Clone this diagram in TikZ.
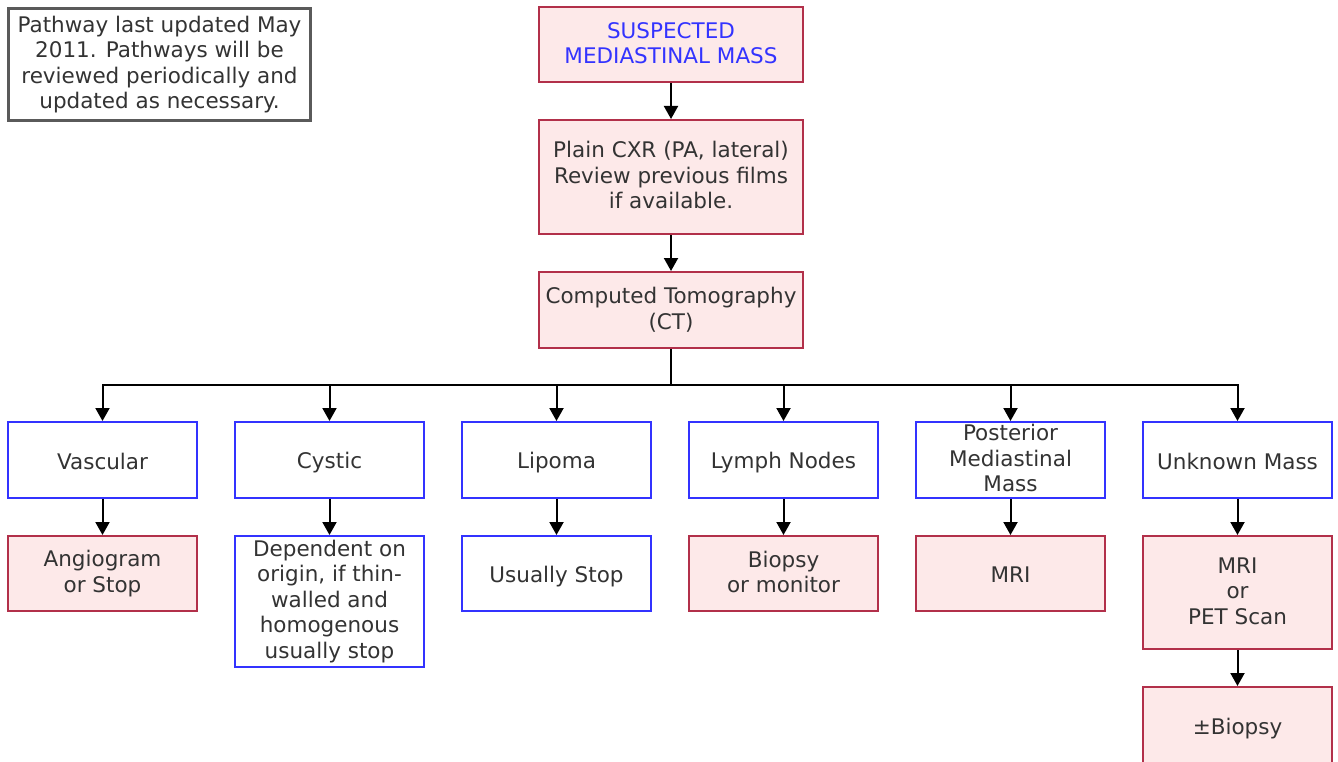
\documentclass[tikz,border=0pt]{standalone}
\usepackage{fontspec}
\setmainfont{DejaVu Sans}
\usepackage{tikz}
\usetikzlibrary{arrows.meta}
\usetikzlibrary{positioning}
\definecolor{boxpink}{RGB}{253,233,233}
\definecolor{boxred}{RGB}{178,48,74}
\definecolor{boxblue}{RGB}{51,51,255}
\definecolor{txtgray}{RGB}{51,51,51}
\definecolor{notegray}{RGB}{90,90,90}
\newcommand\boxstrut{\rule[-3.4pt]{0pt}{25.5pt}}
\begin{document}
\begin{tikzpicture}[x=1pt,y=-1pt]
\tikzstyle{pink node}=[rectangle,draw=boxred,fill=boxpink,line width=2pt,minimum width=264pt,align=center,inner sep=1pt,text=txtgray,font=\fontsize{21.5}{25.5}\selectfont,execute at begin node=\boxstrut,execute at end node=\boxstrut]
\tikzstyle{blue node}=[rectangle,draw=boxblue,fill=white,line width=2pt,minimum width=189pt,minimum height=76pt,align=center,inner sep=1pt,text=txtgray,font=\fontsize{21.5}{25.5}\selectfont,execute at begin node=\boxstrut,execute at end node=\boxstrut]
\tikzset{
  small pink/.style = {pink node,minimum width=189pt,minimum height=75pt},
  note node/.style = {rectangle,draw=notegray,line width=2.5pt,minimum width=302pt,minimum height=112pt,align=center,inner sep=1pt,text=txtgray,font=\fontsize{21.5}{25.5}\selectfont,execute at begin node=\boxstrut,execute at end node=\boxstrut},
  flow/.style = {->,line width=2pt,>={Triangle[width=14pt,length=13pt]}}
}
\useasboundingbox (0,0) rectangle (1338,762);

    \node[note node]   (note)   at (159.5,64.5)   {Pathway last updated May\\2011. Pathways will be\\reviewed periodically and\\updated as necessary.};
    \node[pink node,minimum height=75pt,text=boxblue]   (top)   at (671,44.5)   {SUSPECTED\\MEDIASTINAL MASS};
    \node[pink node,minimum height=114pt]   (cxr)   [below=36pt of top]   {Plain CXR (PA, lateral)\\Review previous films\\if available.};
    \node[pink node,minimum height=76pt]   (ct)   [below=36pt of cxr]   {Computed Tomography\\(CT)};
    \coordinate[below=36pt of ct] (bus);
    %%%%%%%%%%%%%%%%%%%%%%%%%%%%%%%%%%%
    \node[blue node]   (vasc)   at (102.5,460)   {Vascular};
    \node[blue node]   (cyst)   [right=36pt of vasc]   {Cystic};
    \node[blue node]   (lipo)   [right=36pt of cyst]   {Lipoma};
    \node[blue node]   (lymph)   [right=36pt of lipo]   {Lymph Nodes};
    \node[blue node]   (post)   [right=36pt of lymph]   {Posterior\\Mediastinal\\Mass};
    \node[blue node]   (unk)   [right=36pt of post]   {Unknown Mass};
    %%%%%%%%%%%%%%%%%%%%%%%%%%%%%%%%%%%
    \node[small pink]   (angio)   [below=36pt of vasc]   {Angiogram\\or Stop};
    \node[blue node,minimum height=131pt]   (dep)   [below=36pt of cyst]   {Dependent on\\origin, if thin-\\walled and\\homogenous\\usually stop};
    \node[blue node,minimum height=75pt]   (ustop)   [below=36pt of lipo]   {Usually Stop};
    \node[small pink]   (biop)   [below=36pt of lymph]   {Biopsy\\or monitor};
    \node[small pink]   (mri)   [below=36pt of post]   {MRI};
    \node[small pink,minimum height=113pt]   (pet)   [below=36pt of unk]   {MRI\\or\\PET Scan};
    \node[small pink,minimum height=77pt]   (pmbiop)   [below=36pt of pet]   {±Biopsy};
    %%%%%%%%%%%%%%%%%%%%%%%%%%%%%%%%%%%
    \path[flow]
         (top) edge node {} (cxr)
         (cxr) edge node {} (ct)
         (vasc) edge node {} (angio)
         (cyst) edge node {} (dep)
         (lipo) edge node {} (ustop)
         (lymph) edge node {} (biop)
         (post) edge node {} (mri)
         (unk) edge node {} (pet)
         (pet) edge node {} (pmbiop)
;
    \draw[line width=2pt] (ct) -- (bus);
    \foreach \n in {vasc,cyst,lipo,lymph,post,unk}
      \draw[flow] (bus) -| (\n);
\end{tikzpicture}
\end{document}
